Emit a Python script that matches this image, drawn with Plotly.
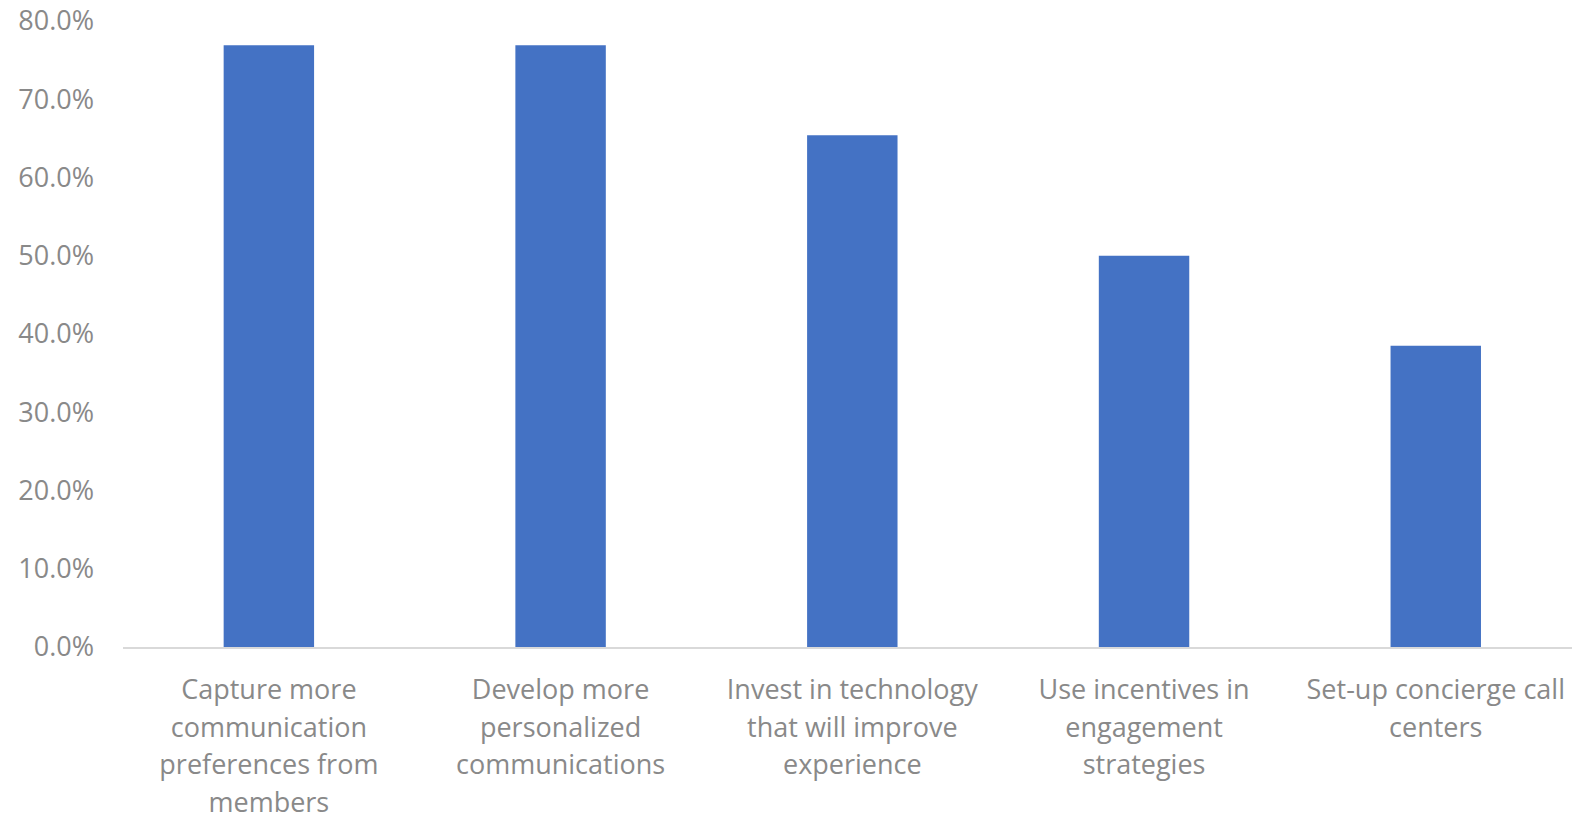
import plotly.graph_objects as go

categories = [
    "Capture more<br>communication<br>preferences from<br>members",
    "Develop more<br>personalized<br>communications",
    "Invest in technology<br>that will improve<br>experience",
    "Use incentives in<br>engagement<br>strategies",
    "Set-up concierge call<br>centers",
]
shares = [0.769, 0.769, 0.654, 0.500, 0.385]
y_ticks = [0.0, 0.1, 0.2, 0.3, 0.4, 0.5, 0.6, 0.7, 0.8]

fig = go.Figure(
    go.Bar(
        x=list(range(len(categories))),
        y=shares,
        marker=dict(color="#4472C4", line=dict(width=0)),
        width=0.31,
    )
)

family = "Open Sans, Liberation Sans, sans-serif"
grey = "#898989"

# Category text is set a little smaller than the axis font so the lines get extra leading
cat_text = [
    "<br>".join(f'<span style="font-size:27px">{part}</span>' for part in c.split("<br>"))
    for c in categories
]

fig.update_layout(
    width=1572,
    height=819,
    margin=dict(l=123, r=0, t=21, b=172),
    paper_bgcolor="white",
    plot_bgcolor="white",
    showlegend=False,
)
fig.update_xaxes(
    tickmode="array",
    tickvals=list(range(len(categories))),
    ticktext=cat_text,
    range=[-0.5, 4.467],
    showgrid=False,
    showline=True,
    linecolor="#d9d9d9",
    linewidth=2,
    ticks="",
    tickangle=0,
    tickfont=dict(family=family, size=29, color=grey),
    ticklabelstandoff=15,
    zeroline=False,
    automargin=False,
)
fig.update_yaxes(
    range=[0, 0.8],
    tickmode="array",
    tickvals=y_ticks,
    ticktext=[f"{v * 100:.1f}%" for v in y_ticks],
    showgrid=False,
    showline=False,
    zeroline=False,
    ticks="",
    tickfont=dict(family=family, size=27, color=grey),
    ticklabelstandoff=28,
    automargin=False,
)

fig.write_html("out.html")
